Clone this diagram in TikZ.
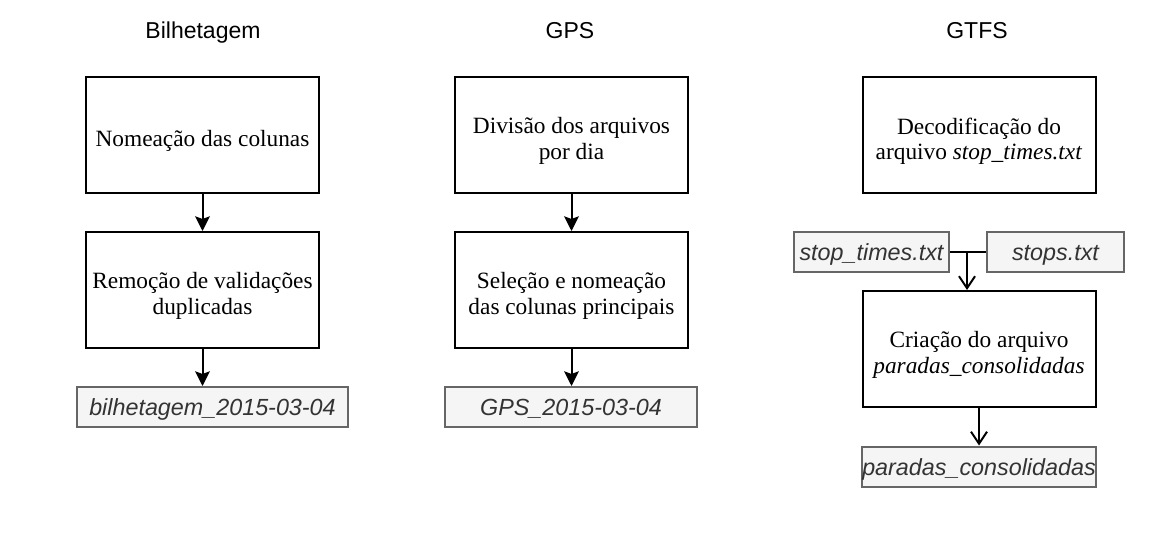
\documentclass[tikz,border=0pt]{standalone}
\usepackage{fontspec}
\setmainfont{Liberation Serif}
\setsansfont{Liberation Sans}
\usetikzlibrary{arrows.meta}
\definecolor{grayfill}{HTML}{F5F5F5}
\definecolor{graydraw}{HTML}{666666}
\definecolor{graytext}{HTML}{333333}
\begin{document}
\begin{tikzpicture}[x=0.75pt,y=-0.75pt,
  coltitle/.style={font=\sffamily\fontsize{17.25}{20}\selectfont, inner sep=0pt, anchor=base},
  procbox/.style={draw=black, line width=1.5pt, inner sep=0pt,
    minimum width=174.75pt, minimum height=87pt},
  proctext/.style={align=center, inner sep=0pt, yshift=-4.5pt,
    font=\fontsize{17.5}{19}\selectfont},
  databox/.style={draw=graydraw, fill=grayfill, line width=1.5pt, inner sep=0pt,
    minimum height=30pt, text=graytext, text height=12.8pt, text depth=0pt,
    font=\sffamily\itshape\fontsize{17.5}{20}\selectfont},
  solidarr/.style={line width=1.5pt, -{Stealth[length=11pt,width=11pt,inset=2pt]}},
  openarr/.style={line width=1.5pt, -{Straight Barb[length=9pt,width=12pt,line width=1.5pt]}},
  link/.style={line width=1.5pt}
]
\useasboundingbox (0,0) rectangle (1172,543);

% Bilhetagem
\node[coltitle] (tb) at (203,38.3) {Bilhetagem};
\node[procbox] (b1) at (202.5,135) {};
\node[proctext] (b1t) at (b1.center) {Nomeação das colunas};
\node[procbox] (b2) at (202.5,290) {};
\node[proctext] (b2t) at (b2.center) {Remoção de validações\\duplicadas};
\node[databox, minimum width=203.25pt] (gb) at (212.5,407) {bilhetagem\_2015-03-04};
\draw[solidarr] (b1.south) -- (b2.north);
\draw[solidarr] (b2.south) -- (b2.south |- gb.north);

% GPS
\node[coltitle] (tp) at (570,38.3) {GPS};
\node[procbox] (p1) at (571.5,135) {};
\node[proctext] (p1t) at (p1.center) {Divisão dos arquivos\\por dia};
\node[procbox] (p2) at (571.5,290) {};
\node[proctext] (p2t) at (p2.center) {Seleção e nomeação\\das colunas principais};
\node[databox, minimum width=189pt] (gp) at (571,407) {GPS\_2015-03-04};
\draw[solidarr] (p1.south) -- (p2.north);
\draw[solidarr] (p2.south) -- (p2.south |- gp.north);

% GTFS
\node[coltitle] (tg) at (977,38.3) {GTFS};
\node[procbox] (t1) at (979,135) {};
\node[proctext] (t1t) at (t1.center) {Decodificação do\\arquivo \textit{stop\_times.txt}};
\node[databox, minimum width=116.25pt] (st) at (871.5,251.5) {stop\_times.txt};
\node[databox, minimum width=102.75pt] (ss) at (1055.5,251.5) {stops.txt};
\node[procbox] (t2) at (979,349) {};
\node[proctext] (t2t) at (t2.center) {Criação do arquivo\\\textit{paradas\_consolidadas}};
\node[databox, minimum width=169.5pt] (gt) at (979,466.5) {paradas\_consolidadas};
\coordinate (jn) at (967,251.5);
\draw[link] (st.east) -- (ss.west);
\draw[openarr] (jn) -- (jn |- t2.north);
\draw[openarr] (t2.south) -- (gt.north);
\end{tikzpicture}
\end{document}
